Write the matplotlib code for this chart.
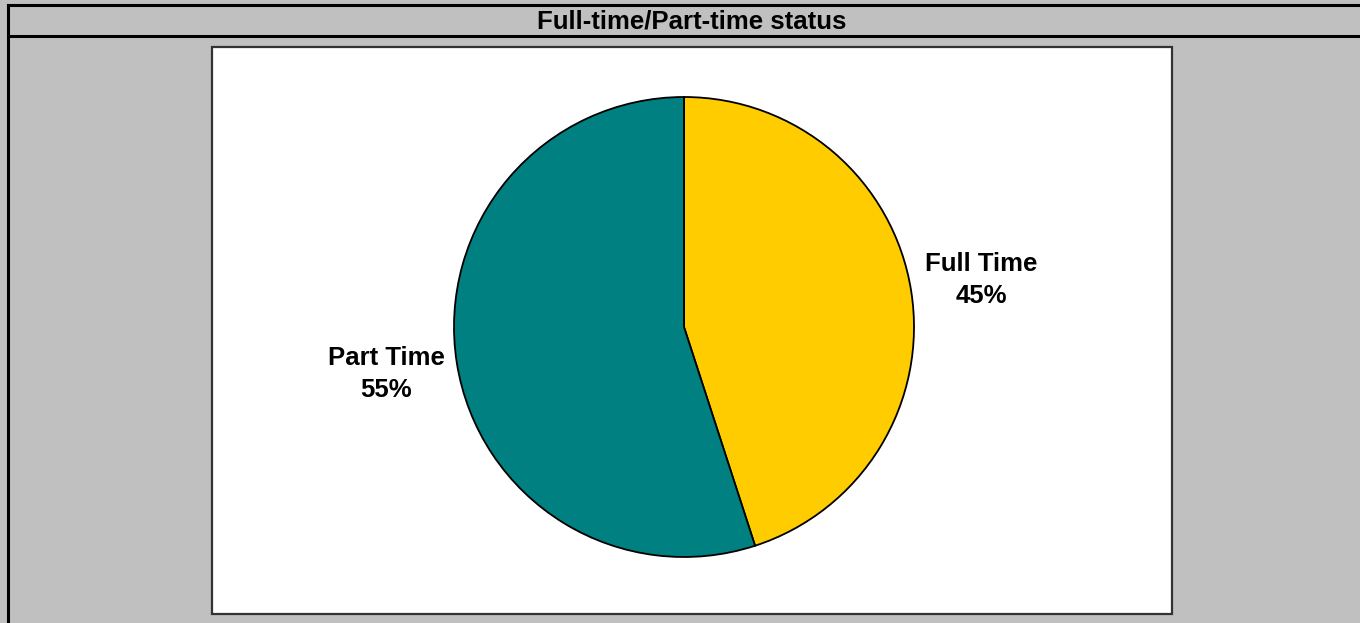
import matplotlib
matplotlib.use("Agg")
import matplotlib.pyplot as plt
from matplotlib.patches import Rectangle
from matplotlib.lines import Line2D

categories = ["Full Time", "Part Time"]
percentages = [45, 55]
colors = ["#FFCC00", "#008080"]
title = "Full-time/Part-time status"

W, H = 1360, 623
fig = plt.figure(figsize=(W / 100, H / 100), dpi=100)
fig.patch.set_facecolor("#C0C0C0")

def fx(x):
    return x / W

def fy(y):
    return 1 - y / H

# outer border lines
fig.add_artist(Line2D([fx(8), fx(8)], [fy(5), fy(640)], color="black", lw=2.2, zorder=-2))
fig.add_artist(Line2D([fx(8), fx(1380)], [fy(5), fy(5)], color="black", lw=2.2, zorder=-2))
fig.add_artist(Line2D([fx(8), fx(1380)], [fy(36), fy(36)], color="black", lw=2.2, zorder=-2))

# white plot area
fig.add_artist(Rectangle((fx(212), fy(614)), fx(1172) - fx(212), fy(47) - fy(614),
                         facecolor="white", edgecolor="#333333", lw=1.6, zorder=-1))

fig.text(fx(692), fy(21.5), title, ha="center", va="center",
         fontsize=18.5, fontweight="bold", family="Liberation Sans", color="black")

# pie axes, centered at (684, 327), radius 230 px
R = 230
cx, cy = 684, 327
size = 2 * R * 1.5
ax = fig.add_axes([fx(cx - size / 2), fy(cy + size / 2), size / W, size / H], zorder=2)
ax.set_aspect("equal")
ax.axis("off")

labels = [f"{c}\n{p}%" for c, p in zip(categories, percentages)]
wedges, texts = ax.pie(percentages, colors=colors, startangle=90, counterclock=False,
                       radius=1, labels=labels, labeldistance=1.31,
                       wedgeprops=dict(edgecolor="black", linewidth=1.3),
                       textprops=dict(fontsize=18.5, fontweight="bold",
                                      family="Liberation Sans", linespacing=1.45))
for t in texts:
    t.set_ha("center")
    t.set_va("center")
ax.set_xlim(-1.5, 1.5)
ax.set_ylim(-1.5, 1.5)

fig.savefig("out.png", dpi=100, facecolor=fig.get_facecolor())
